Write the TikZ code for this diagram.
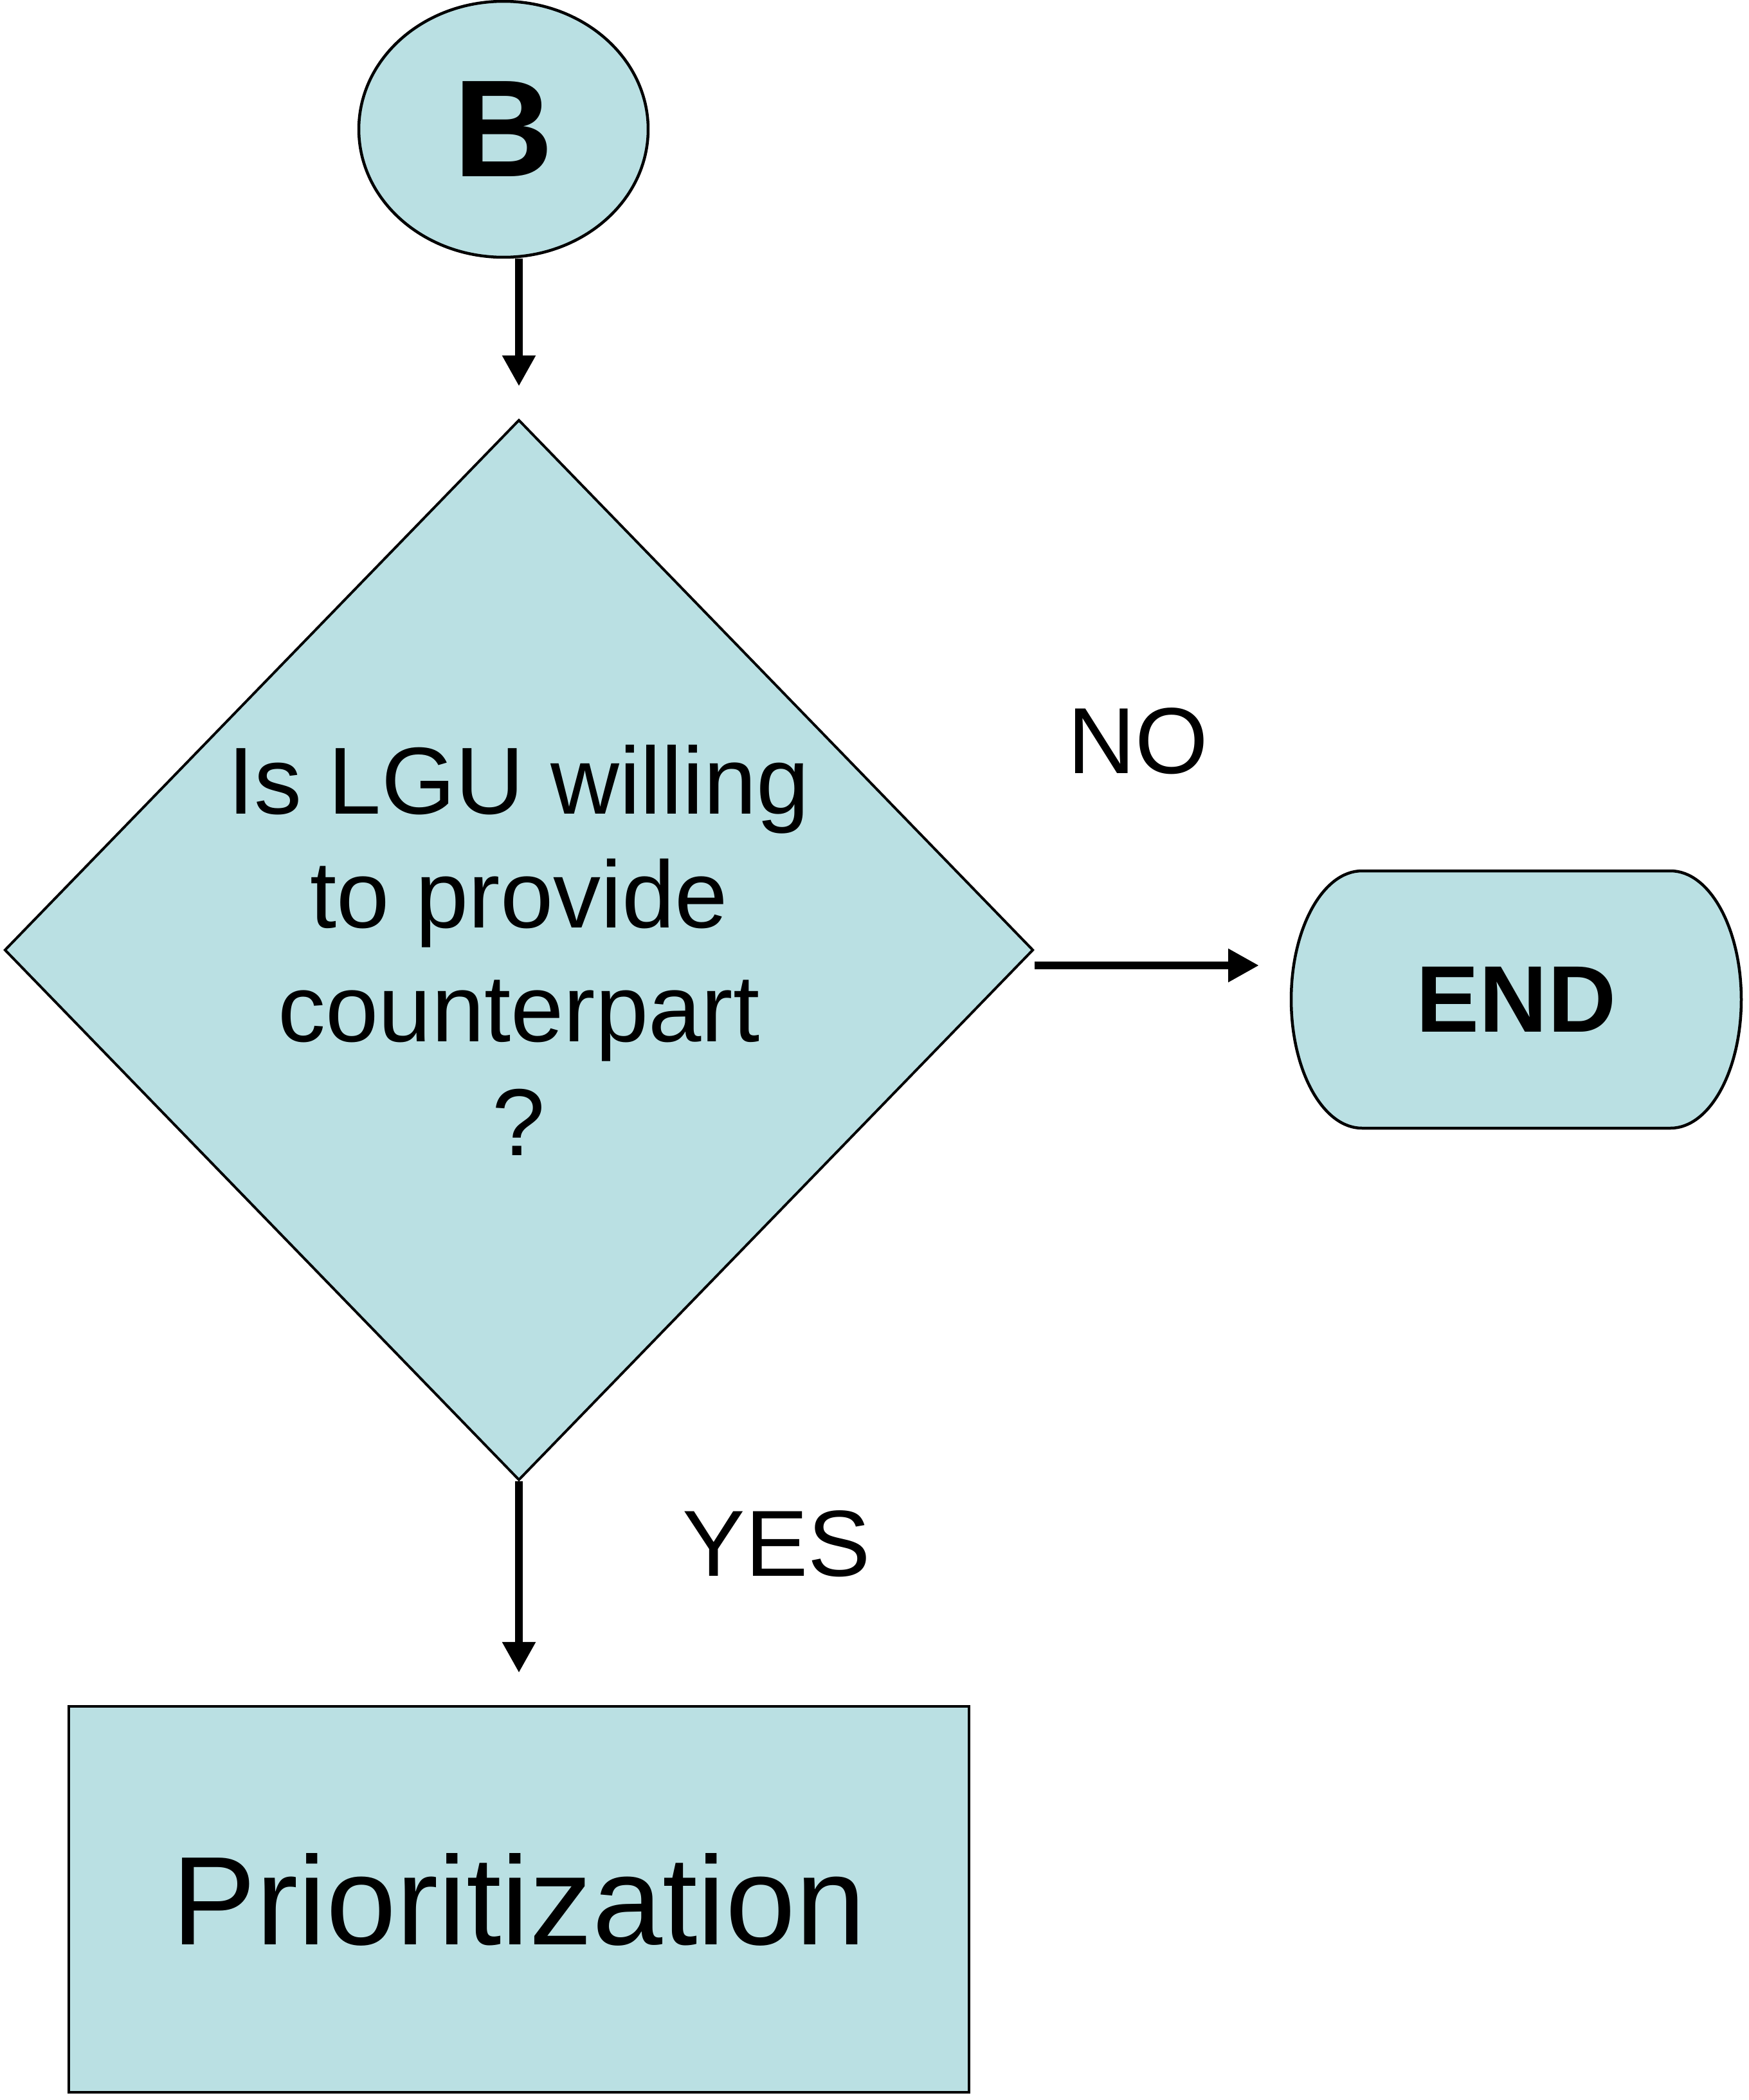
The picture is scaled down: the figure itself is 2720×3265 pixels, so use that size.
\documentclass[tikz,border=0pt]{standalone}
\usepackage{fontspec}
\setmainfont{Liberation Sans}
\usetikzlibrary{shapes.geometric,arrows.meta,backgrounds}
\definecolor{boxfill}{RGB}{186,224,227}
\begin{document}
\begin{tikzpicture}[x=0.1pt,y=-0.1pt,
  shapebox/.style={draw=black,fill=boxfill,line width=0.45pt},
  arr/.style={line width=1.2pt,-{Triangle[length=4.8pt,width=4.9pt]}},
  lbl/.style={font=\fontsize{14.6pt}{17pt}\selectfont,inner sep=0pt}]
\useasboundingbox (0,0) rectangle (2720,3265);
\node[shapebox,ellipse,minimum width=45pt,minimum height=39.8pt,inner sep=0pt,
  font=\fontsize{21.5pt}{24pt}\selectfont\bfseries] (B) at (783,201) {B};
\node[shapebox,diamond,line width=0.4pt,minimum width=160pt,minimum height=164.9pt,inner sep=0pt] (D) at (807,1477) {};
\node[align=center,font=\fontsize{14.8pt}{17.7pt}\selectfont,inner sep=0pt] (Dt) at (D.center)
  {Is LGU willing\\to provide\\counterpart\\?};
\node[minimum width=48pt,minimum height=40pt,inner sep=0pt,outer sep=0pt,
  font=\fontsize{14.7pt}{17pt}\selectfont\bfseries] (E) at (2358,1554) {END};
\begin{scope}[on background layer]
\draw[shapebox] (E.north west) -- (E.north east)
  arc[start angle=90,end angle=-90,x radius=11pt,y radius=20pt]
  -- (E.south west)
  arc[start angle=270,end angle=90,x radius=11pt,y radius=20pt] -- cycle;
\end{scope}
\node[shapebox,minimum width=140pt,minimum height=60pt,inner sep=0pt,
  font=\fontsize{19.6pt}{22pt}\selectfont] (P) at (807,2953) {Prioritization};
\node[lbl] (NO) at (1770,1152) {NO};
\node[lbl] (YES) at (1208,2400) {YES};
\draw[arr] (B.south -| D.north) -- ([yshift=5pt]D.north);
\path ([yshift=-2.4pt]D.east) coordinate (n1);
\path ([xshift=-16pt]E.west) coordinate (n2);
\draw[arr] (n1) -- (n1 -| n2);
\draw[arr] (D.south) -- ([yshift=5pt]P.north);
\end{tikzpicture}
\end{document}
